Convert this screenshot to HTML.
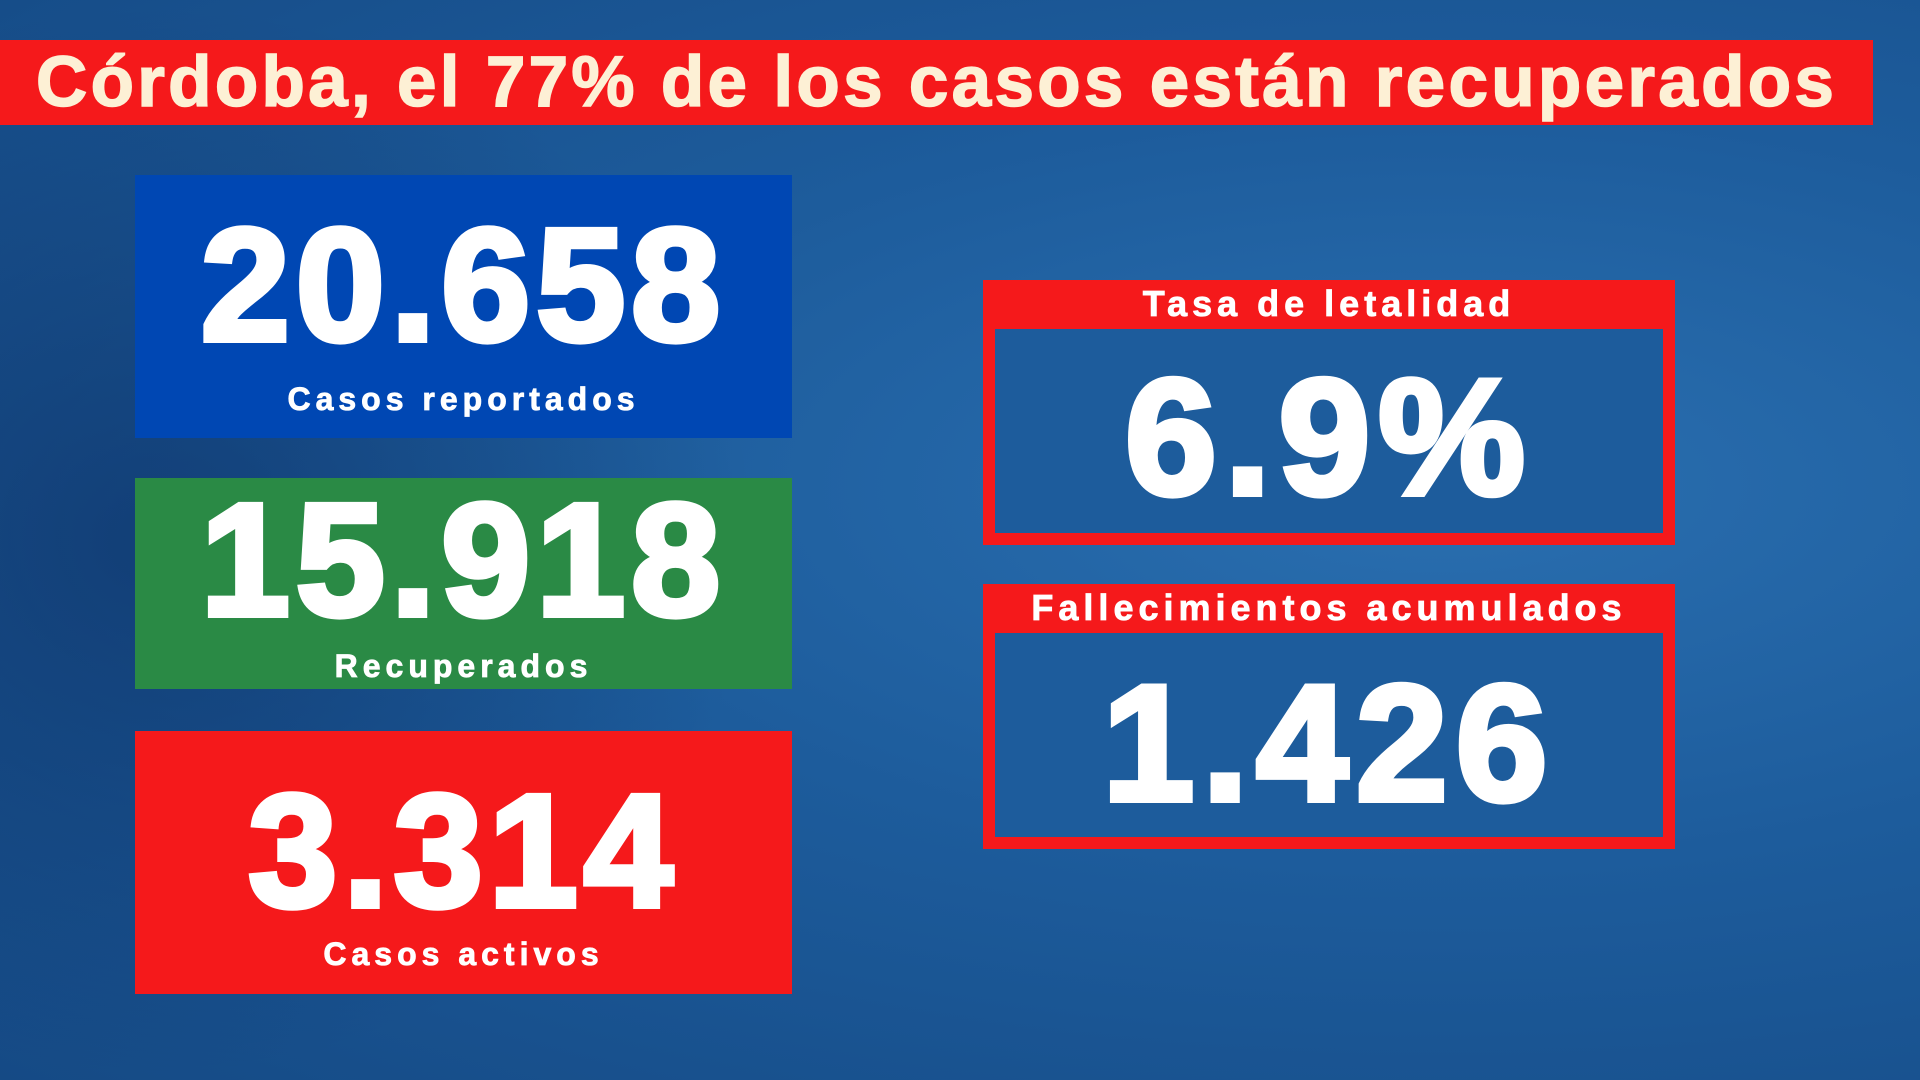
<!DOCTYPE html>
<html><head><meta charset="utf-8"><style>
*{margin:0;padding:0;box-sizing:border-box}
body{width:1920px;height:1080px;overflow:hidden;position:relative;font-family:"Liberation Sans",sans-serif;font-weight:bold;
background:radial-gradient(ellipse at 75% 45%,#2a6fb0 0%,#1d5c9c 45%,#154a85 100%);}
.bgl{position:absolute;left:0;top:0;width:760px;height:1080px;background:radial-gradient(ellipse at 20% 50%,rgba(10,40,90,.5),rgba(10,40,90,0) 70%)}
.t{position:absolute;left:0;top:40px;width:1873px;height:85px;background:#f5191b;color:#fdf0d5;font-size:71px;line-height:85px;padding-left:36px;letter-spacing:3.3px;white-space:nowrap;-webkit-text-stroke:1.5px #fdf0d5}
.box{position:absolute;left:135px;width:657px;color:#fff;text-align:center}
.num{font-size:160px;letter-spacing:6px;position:absolute;left:0;right:0;line-height:1;-webkit-text-stroke:6px #fff}
.lab{font-size:32px;letter-spacing:5px;position:absolute;left:0;right:0;-webkit-text-stroke:0.8px #fff}
.r{position:absolute;left:983px;width:692px;height:265px;background:#f5191b}
.r .h{color:#fff;font-size:36px;letter-spacing:5px;text-align:center;line-height:48px;-webkit-text-stroke:0.8px #fff}
.r .in{position:absolute;left:12px;right:12px;top:49px;bottom:12px;background:#1d5c9c;color:#fff;text-align:center;font-size:165px;line-height:1;letter-spacing:8px;-webkit-text-stroke:6px #fff}
</style></head><body>
<div class="bgl"></div>
<div class="t">Córdoba, el 77% de los casos están recuperados</div>
<div class="box" style="top:175px;height:263px;background:#0047b3">
<div class="num" style="top:30px">20.658</div><div class="lab" style="top:206px">Casos reportados</div></div>
<div class="box" style="top:478px;height:211px;background:#2a8a45">
<div class="num" style="top:2px">15.918</div><div class="lab" style="top:170px">Recuperados</div></div>
<div class="box" style="top:731px;height:263px;background:#f5191b">
<div class="num" style="top:40px">3.314</div><div class="lab" style="top:205px">Casos activos</div></div>
<div class="r" style="top:280px"><div class="h">Tasa de letalidad</div><div class="in"><div style="position:absolute;left:0;right:0;top:26px">6.9%</div></div></div>
<div class="r" style="top:584px"><div class="h">Fallecimientos acumulados</div><div class="in"><div style="position:absolute;left:0;right:0;top:28px">1.426</div></div></div>
</body></html>
